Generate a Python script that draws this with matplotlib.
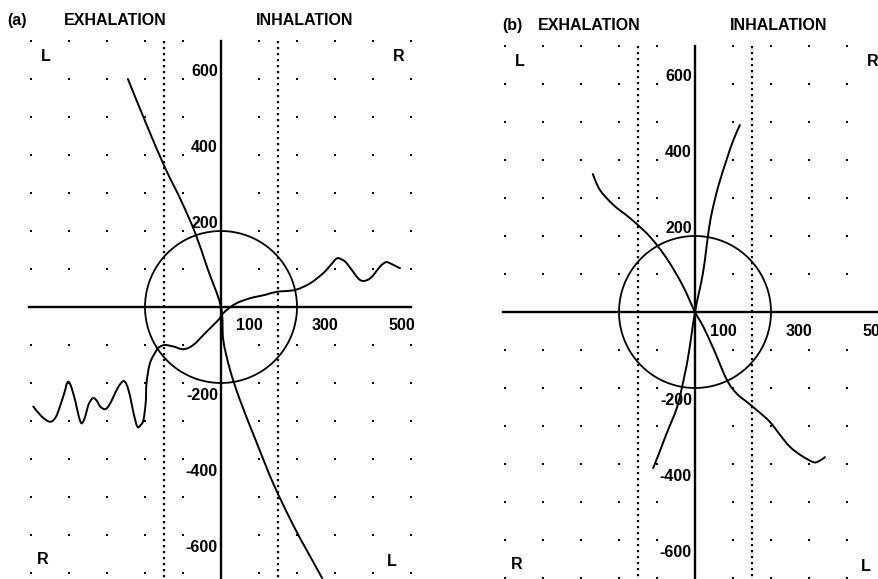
import matplotlib
matplotlib.use("Agg")
import matplotlib.pyplot as plt
from matplotlib.path import Path
from matplotlib.patches import PathPatch
import numpy as np

plt.rcParams['font.family'] = ['Liberation Sans', 'DejaVu Sans']

# grid / tick values
grid_x = np.arange(-500, 501, 100)
grid_y = np.arange(-700, 701, 100)
x_ticks = [100, 300, 500]
y_ticks = [600, 400, 200, -200, -400, -600]
band = 150          # dotted lines at +/- band
radius = 200        # circle radius

# panel (a) curves
a_line_x = [-245, -196, -147, -105, -68, -35, 0, 6, 24, 50, 95, 139, 190, 230, 266]
a_line_y = [600, 480, 366, 280, 195, 100, 0, -87, -166, -245, -360, -468, -574, -648, -713]

a_wave_x = [-494, -472, -450, -435, -424, -412, -404, -396, -384, -375, -367, -358,
            -349, -340, -334, -326, -318, -305, -294, -283, -270, -257, -248, -239,
            -230, -220, -211, -204, -198, -196, -187, -169, -160, -147, -125, -99,
            -73, -38, -7, 2, 15, 41, 76, 103, 120, 147, 195, 234, 269, 290, 305,
            318, 331, 357, 368, 379, 392, 405, 420, 434, 445, 453, 471]
a_wave_y = [-262, -288, -302, -290, -262, -225, -198, -205, -245, -285, -306, -290,
            -258, -242, -240, -248, -262, -269, -258, -236, -210, -195, -205, -236,
            -280, -315, -310, -297, -250, -201, -148, -113, -104, -100, -104, -111,
            -100, -65, -34, -21, -8, 10, 23, 29, 33, 40, 45, 62, 89, 112, 128,
            125, 115, 80, 70, 69, 75, 89, 108, 118, 115, 111, 102]

# panel (b) curves
b_steep_x = [-110, -92, -74, -60, -47, -34, -18, 0, 21, 35, 44, 61, 83, 100, 118]
b_steep_y = [-411, -365, -318, -284, -250, -197, -118, 0, 103, 207, 260, 330, 400, 450, 492]

b_cross_x = [-269, -250, -215, -171, -127, -97, -66, -31, 0, 22, 50, 84, 110, 137,
             167, 197, 225, 250, 280, 311, 325, 342]
b_cross_y = [363, 321, 282, 247, 207, 172, 128, 67, 0, -39, -100, -179, -215, -237,
             -262, -289, -325, -355, -378, -395, -393, -382]

W, H = 879, 579
fig = plt.figure(figsize=(W / 100, H / 100), dpi=100)
font = dict(fontsize=11.5, fontweight='bold')


def smooth_path(xs, ys):
    # catmull-rom through the read points, drawn as cubic bezier segments
    p = np.column_stack([xs, ys]).astype(float)
    verts = [p[0]]
    codes = [Path.MOVETO]
    n = len(p)
    for i in range(n - 1):
        p0 = p[max(i - 1, 0)]
        p1 = p[i]
        p2 = p[i + 1]
        p3 = p[min(i + 2, n - 1)]
        verts += [p1 + (p2 - p0) / 6, p2 - (p3 - p1) / 6, p2]
        codes += [Path.CURVE4] * 3
    return Path(verts, codes)


def panel(rect, ox, oy, tag, tag_x, curves, hx_right):
    ax = fig.add_axes(rect)
    s = 0.38  # pixels per unit
    x0 = rect[0] * W
    x1 = (rect[0] + rect[2]) * W
    ax.set_xlim((x0 - ox) / s, (x1 - ox) / s)
    ax.set_ylim((oy - H) / s, oy / s)
    ax.axis('off')

    gx, gy = np.meshgrid(grid_x, grid_y)
    ax.plot(gx.ravel(), gy.ravel(), 's', color='k', ms=2.0, mew=0)

    bottom = (oy - H) / s
    for xb in (-band, band):
        ax.plot([xb, xb], [700, bottom], color='k', lw=1.6, ls=(0, (1, 1.7)))

    ax.plot([0, 0], [700, bottom], color='k', lw=1.7)
    ax.plot([-505, hx_right], [0, 0], color='k', lw=1.7)

    t = np.linspace(0, 2 * np.pi, 300)
    ax.plot(radius * np.cos(t), radius * np.sin(t), color='k', lw=1.3)

    for cx, cy in curves:
        ax.add_patch(PathPatch(smooth_path(cx, cy), fill=False, edgecolor='k',
                               lw=1.4, capstyle='round'))

    for v in x_ticks:
        ax.text(v + 10, -50, str(v), ha='right', va='center', **font)
    for v in y_ticks:
        off = 20 if v > 0 else -32
        ax.text(-8, v + off, str(v), ha='right', va='center', **font)

    ax.text(tag_x, 755, tag, ha='center', va='center', **font)
    ax.text(-278, 755, 'EXHALATION', ha='center', va='center', **font)
    ax.text(220, 755, 'INHALATION', ha='center', va='center', **font)

    ax.text(-460, 660, 'L', ha='center', va='center', **font)
    ax.text(468, 660, 'R', ha='center', va='center', **font)
    ax.text(-470, -664, 'R', ha='center', va='center', **font)
    ax.text(449, -671, 'L', ha='center', va='center', **font)
    return ax


panel([0, 0, 440 / W, 1], 221, 307, '(a)', -537,
      [(a_line_x, a_line_y), (a_wave_x, a_wave_y)], 500)
panel([440 / W, 0, 439 / W, 1], 695, 312, '(b)', -481,
      [(b_steep_x, b_steep_y), (b_cross_x, b_cross_y)], 520)

fig.savefig("out.png", dpi=100)
